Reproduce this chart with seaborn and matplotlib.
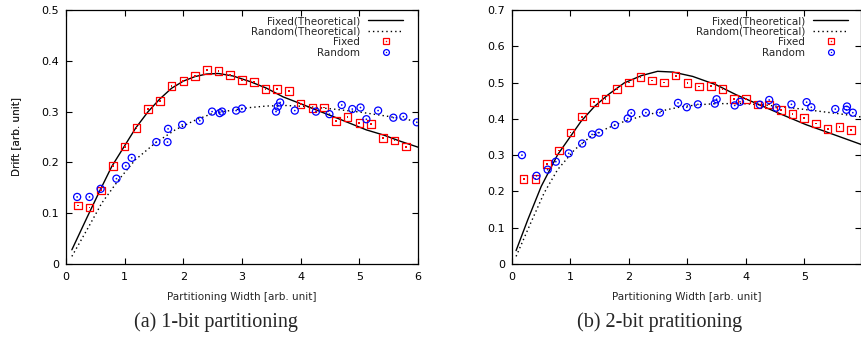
import matplotlib
matplotlib.use('Agg')
import matplotlib.pyplot as plt
import seaborn as sns
from matplotlib.lines import Line2D
from matplotlib.legend_handler import HandlerTuple
from matplotlib.ticker import FuncFormatter

sns.set_style('ticks')
plt.rcParams['font.family'] = ['DejaVu Sans']

# ---------------- data: (a) 1-bit partitioning ----------------
a_fixed_x = [0.2, 0.4, 0.6, 0.8, 1.0, 1.2, 1.4, 1.6, 1.8, 2.0, 2.2, 2.4, 2.6, 2.8, 3.0,
             3.2, 3.4, 3.6, 3.8, 4.0, 4.2, 4.4, 4.6, 4.8, 5.0, 5.2, 5.4, 5.6, 5.8]
a_fixed_y = [0.115, 0.111, 0.145, 0.193, 0.231, 0.268, 0.305, 0.321, 0.350, 0.360, 0.370,
             0.382, 0.380, 0.372, 0.362, 0.358, 0.344, 0.344, 0.341, 0.315, 0.307, 0.308,
             0.282, 0.289, 0.277, 0.276, 0.248, 0.243, 0.231]
a_random_x = [0.19, 0.40, 0.59, 0.86, 1.02, 1.12, 1.54, 1.73, 1.74, 1.98, 2.28, 2.49, 2.62,
              2.66, 2.90, 3.00, 3.58, 3.61, 3.65, 3.90, 4.26, 4.49, 4.70, 4.88, 5.02, 5.12,
              5.32, 5.58, 5.75, 5.98]
a_random_y = [0.132, 0.132, 0.148, 0.168, 0.193, 0.209, 0.240, 0.240, 0.266, 0.274, 0.282,
              0.300, 0.297, 0.300, 0.302, 0.306, 0.300, 0.310, 0.318, 0.302, 0.300, 0.295,
              0.313, 0.305, 0.308, 0.285, 0.302, 0.288, 0.290, 0.279]
a_fixed_th_x = [0.10, 0.36, 0.58, 0.78, 0.99, 1.19, 1.40, 1.60, 1.80, 2.00, 2.20, 2.40, 2.60,
                2.85, 3.14, 3.42, 3.70, 3.99, 4.27, 4.56, 4.84, 5.12, 5.41, 5.69, 6.00]
a_fixed_th_y = [0.028, 0.092, 0.145, 0.192, 0.231, 0.268, 0.300, 0.325, 0.346, 0.360, 0.369,
                0.374, 0.375, 0.370, 0.359, 0.346, 0.329, 0.316, 0.303, 0.290, 0.277, 0.264,
                0.254, 0.242, 0.230]
a_random_th_x = [0.10, 0.39, 0.61, 0.90, 1.18, 1.52, 1.86, 2.20, 2.51, 2.85, 3.14, 3.42, 3.76,
                 4.10, 4.56, 5.01, 5.47, 5.98]
a_random_th_y = [0.015, 0.074, 0.120, 0.166, 0.205, 0.238, 0.264, 0.283, 0.297, 0.303, 0.308,
                 0.311, 0.312, 0.310, 0.305, 0.299, 0.291, 0.281]

# ---------------- data: (b) 2-bit partitioning ----------------
b_fixed_x = [0.2, 0.4, 0.6, 0.8, 1.0, 1.2, 1.4, 1.6, 1.8, 2.0, 2.2, 2.4, 2.6, 2.8, 3.0,
             3.2, 3.4, 3.6, 3.8, 4.0, 4.2, 4.4, 4.6, 4.8, 5.0, 5.2, 5.4, 5.6, 5.8]
b_fixed_y = [0.235, 0.234, 0.275, 0.313, 0.362, 0.406, 0.446, 0.455, 0.483, 0.500, 0.516,
             0.506, 0.500, 0.519, 0.499, 0.489, 0.490, 0.483, 0.454, 0.455, 0.440, 0.440,
             0.424, 0.413, 0.403, 0.387, 0.372, 0.377, 0.369]
b_random_x = [0.17, 0.42, 0.61, 0.75, 0.97, 1.20, 1.37, 1.49, 1.76, 1.98, 2.04, 2.29, 2.53,
              2.84, 2.99, 3.18, 3.47, 3.50, 3.81, 3.90, 4.24, 4.40, 4.52, 4.78, 5.04, 5.12,
              5.53, 5.73, 5.72, 5.83]
b_random_y = [0.300, 0.243, 0.260, 0.282, 0.305, 0.332, 0.357, 0.362, 0.383, 0.401, 0.416,
              0.417, 0.417, 0.444, 0.432, 0.440, 0.442, 0.454, 0.437, 0.447, 0.439, 0.452,
              0.431, 0.440, 0.446, 0.432, 0.427, 0.434, 0.425, 0.417]
b_fixed_th_x = [0.07, 0.27, 0.50, 0.78, 0.98, 1.18, 1.41, 1.64, 1.92, 2.21, 2.49, 2.75, 3.09,
                3.49, 3.84, 4.23, 4.63, 5.03, 5.43, 5.98]
b_fixed_th_y = [0.037, 0.122, 0.214, 0.301, 0.347, 0.393, 0.434, 0.466, 0.499, 0.519, 0.531,
                0.529, 0.517, 0.494, 0.466, 0.439, 0.411, 0.384, 0.361, 0.329]
b_random_th_x = [0.07, 0.32, 0.55, 0.78, 1.07, 1.35, 1.64, 1.92, 2.21, 2.49, 2.64, 2.92, 3.21,
                 3.49, 3.95, 4.35, 4.80, 5.20, 5.60, 5.98]
b_random_th_y = [0.021, 0.113, 0.196, 0.260, 0.315, 0.352, 0.375, 0.393, 0.407, 0.418, 0.425,
                 0.434, 0.439, 0.442, 0.442, 0.438, 0.430, 0.422, 0.414, 0.405]

x_label = 'Partitioning Width [arb. unit]'
y_label = 'Drift [arb. unit]'
legend_labels = ['Fixed(Theoretical)', 'Random(Theoretical)', 'Fixed', 'Random']
captions = ['(a) 1-bit partitioning', '(b) 2-bit pratitioning']

W, H = 862, 338
fig = plt.figure(figsize=(W / 100, H / 100), dpi=100)
ax1 = fig.add_axes([66 / W, 74 / H, 352 / W, 254 / H])
ax2 = fig.add_axes([512 / W, 74 / H, 349 / W, 254 / H])

DOT = (0, (1, 2.2))
yfmt = FuncFormatter(lambda v, p: '0' if abs(v) < 1e-9 else f'{v:.1f}')


def draw(ax, thfx, thfy, thrx, thry, fx, fy, rx, ry, xmax, ymax, xticks, yticks,
         left_px, width_px, leg_right_px):
    sns.lineplot(x=thfx, y=thfy, ax=ax, color='black', linewidth=1.0, sort=False,
                 estimator=None, legend=False)
    sns.lineplot(x=thrx, y=thry, ax=ax, color='black', linewidth=1.0, sort=False,
                 estimator=None, legend=False, linestyle=DOT)
    sns.scatterplot(x=fx, y=fy, ax=ax, marker='s', s=30, facecolor='none',
                    edgecolor='#ff0000', linewidth=0.9, legend=False, zorder=3)
    sns.scatterplot(x=fx, y=fy, ax=ax, marker='s', s=1.5, color='#ff0000',
                    edgecolor='none', legend=False, zorder=3)
    sns.scatterplot(x=rx, y=ry, ax=ax, marker='o', s=26, facecolor='none',
                    edgecolor='#0000ff', linewidth=0.9, legend=False, zorder=3)
    sns.scatterplot(x=rx, y=ry, ax=ax, marker='o', s=1.5, color='#0000ff',
                    edgecolor='none', legend=False, zorder=3)
    ax.set_xlim(0, xmax)
    ax.set_ylim(0, ymax)
    ax.set_xticks(xticks)
    ax.set_yticks(yticks)
    ax.yaxis.set_major_formatter(yfmt)
    ax.tick_params(direction='in', length=4, width=0.8, top=True, right=True,
                   labelsize=8, colors='black')
    ax.tick_params(axis='x', pad=6)
    ax.tick_params(axis='y', pad=5)
    for s in ax.spines.values():
        s.set_visible(True)
        s.set_linewidth(0.9)
        s.set_color('black')
    ax.set_xlabel(x_label, fontsize=7.5)
    ax.set_ylabel(y_label, fontsize=7.5)
    ax.xaxis.set_label_coords(0.5, -(292 - 264) / 254)
    ax.yaxis.set_label_coords(-(left_px - 21) / width_px, 0.5)

    h1 = Line2D([], [], color='black', lw=1.0)
    h2 = Line2D([], [], color='black', lw=1.0, ls=DOT)
    h3 = (Line2D([], [], ls='none', marker='s', ms=4.2, mfc='none', mec='#ff0000', mew=0.9),
          Line2D([], [], ls='none', marker='s', ms=1.0, mfc='#ff0000', mec='none'))
    h4 = (Line2D([], [], ls='none', marker='o', ms=4.2, mfc='none', mec='#0000ff', mew=0.9),
          Line2D([], [], ls='none', marker='o', ms=1.0, mfc='#0000ff', mec='none'))
    ax.legend([h1, h2, h3, h4], legend_labels, loc='upper right', frameon=False,
              bbox_to_anchor=(1 - leg_right_px / width_px, 1 - 6 / 254),
              markerfirst=False, handlelength=3.35, labelspacing=0.05, handletextpad=0.75,
              fontsize=7.5, borderaxespad=0.0, borderpad=0.0,
              handler_map={tuple: HandlerTuple(ndivide=1, pad=0)})


draw(ax1, a_fixed_th_x, a_fixed_th_y, a_random_th_x, a_random_th_y,
     a_fixed_x, a_fixed_y, a_random_x, a_random_y,
     6, 0.5, [0, 1, 2, 3, 4, 5, 6], [0, 0.1, 0.2, 0.3, 0.4, 0.5], 66, 352, 15)
draw(ax2, b_fixed_th_x, b_fixed_th_y, b_random_th_x, b_random_th_y,
     b_fixed_x, b_fixed_y, b_random_x, b_random_y,
     5.97, 0.7, [0, 1, 2, 3, 4, 5], [0, 0.1, 0.2, 0.3, 0.4, 0.5, 0.6, 0.7], 512, 349, 13)

fig.text(216 / W, 1 - 322 / H, captions[0], ha='center', va='center',
         family='Liberation Serif', fontsize=14.5)
fig.text(660 / W, 1 - 322 / H, captions[1], ha='center', va='center',
         family='Liberation Serif', fontsize=14.5)

fig.savefig('out.png', dpi=100)
